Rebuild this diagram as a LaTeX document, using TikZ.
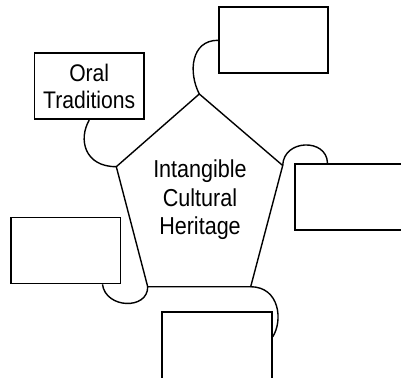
\documentclass[tikz,border=0pt]{standalone}
\usepackage{fontspec}
\newfontfamily\narrowsans[FakeStretch=0.88]{Liberation Sans}
\usetikzlibrary{calc}
\tikzset{
  box/.style={draw, line width=1.7pt, minimum width=109.6pt, minimum height=66pt,
    inner sep=0pt, align=center, font=\narrowsans\fontsize{24}{27}\selectfont},
  edge/.style={line width=1.4pt, line join=miter},
  link/.style={line width=1.4pt},
  lbl/.style={align=center, font=\narrowsans\fontsize{24.5}{28.5}\selectfont}
}
\begin{document}
\begin{tikzpicture}[x=1pt,y=-1pt]
\clip (0,0) rectangle (401,377);
\fill[white] (0,0) rectangle (401,377);
% pentagon
\coordinate (vT) at (199.3,94);
\coordinate (vR) at (282.7,165.5);
\coordinate (vBR) at (250.7,286.7);
\coordinate (vBL) at (147.7,286.7);
\coordinate (vL) at (116.3,166.7);
\draw[edge] (vT) -- (vR) -- (vBR) -- (vBL) -- (vL) -- cycle;
\node[lbl] (ich) at (200,200) {Intangible\\Cultural\\Heritage};
% boxes
\node[box] (top) at (273.5,40.3) {};
\node[box] (oral) at (89.2,86.3) {Oral\\Traditions};
\node[box] (rbox) at (350.1,196.7) {};
\node[box] (lbox) at (65.8,250.5) {};
\node[box, minimum height=74pt] (bbox) at (217,348.7) {};
% attachment points
\coordinate (rA) at ($(rbox.north west)+(33,0)$);
\coordinate (lA) at ($(lbox.south east)+(-19,0)$);
\coordinate (bA) at ($(bbox.north east)+(0,26)$);
% connectors
\draw[link] (vT) .. controls +(-11.3,-22) and +(-26.7,0) .. (top.west);
\draw[link] (oral.south) .. controls +(-11,19) and +(-32,0) .. (vL);
\draw[link] (vR) .. controls +(0.8,-26.5) and +(-0.8,-24.7) .. (rA);
\draw[link] (lA) .. controls +(3.3,24.5) and +(0.3,23.3) .. (vBL);
\draw[link] (vBR) .. controls +(29.3,0.3) and +(10.3,-15.7) .. (bA);
\end{tikzpicture}
\end{document}
